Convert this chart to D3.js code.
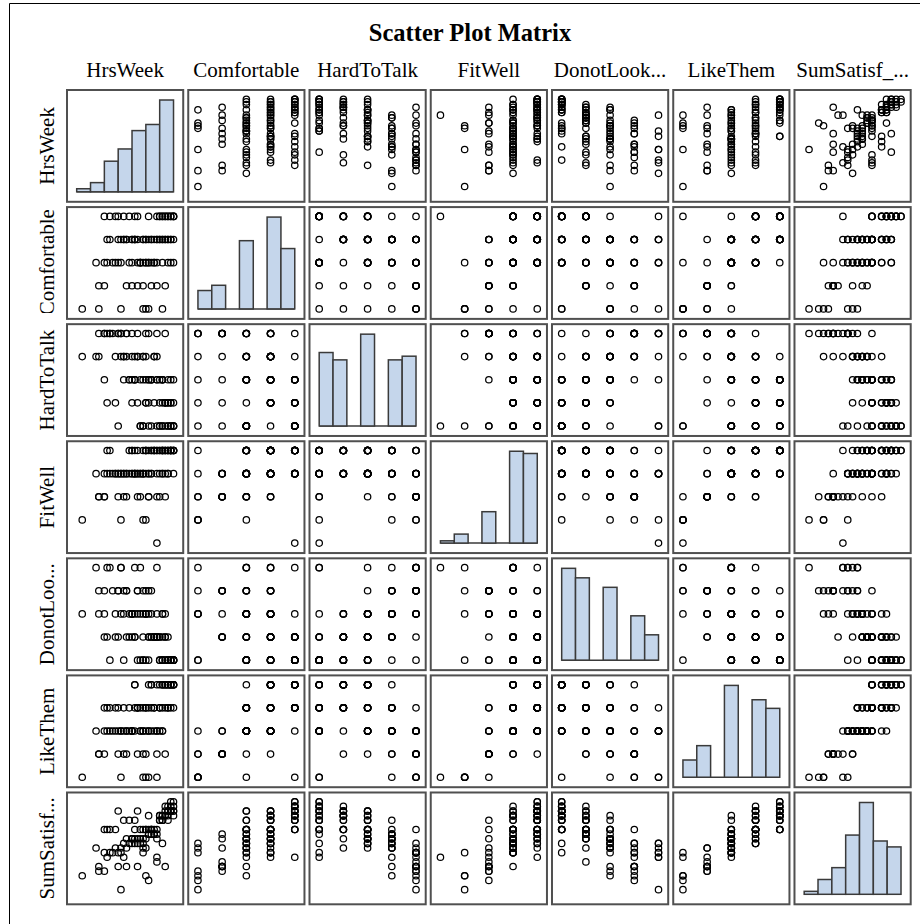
<!DOCTYPE html>
<html><head><meta charset="utf-8">
<script src="https://cdn.jsdelivr.net/npm/d3@7"></script>
<style>body{margin:0;background:#fff}svg{display:block}</style>
</head><body><svg id="c" width="920" height="924"></svg>
<script>
// ---- data ----
const varNames  = ["HrsWeek","Comfortable","HardToTalk","FitWell","DonotLook","LikeThem","SumSatisf"];
const colLabels = ["HrsWeek","Comfortable","HardToTalk","FitWell","DonotLook...","LikeThem","SumSatisf_..."];
const rowLabels = ["HrsWeek","Comfortable","HardToTalk","FitWell","DonotLoo...","LikeThem","SumSatisf..."];
const titleText = "Scatter Plot Matrix";

const HrsWeek = [29,16,24,2,25,26,25,31,8,10, 22,29,18,32,8,24,15,17,27,20,
  35,34,33,35,32,15,31,30,34,33, 22,14,32,26,35,10,19,31,30,17,
  21,12,12,16,11,18,13,15,10,20, 23,21,7,24,22,27,34,23,26,31,
  33,35,24,28,20,25,29,23,27,19, 26,16,28,14,30,34,32,33,31,11,
  35,25,30,32,34,21,29,26,33,27, 31,21,18,24,22,28,17,25,29,20];
const Comfortable = [5,1,1,1,3,1,1,1,1,2, 2,2,2,2,2,2,3,4,2,2,
  5,5,5,5,5,5,5,5,5,5, 5,5,5,5,5,5,5,5,5,5,
  5,5,4,4,3,4,3,4,3,4, 3,4,3,4,3,4,3,3,3,3,
  3,3,3,3,3,3,3,3,3,3, 3,3,3,3,4,4,4,4,4,4,
  4,4,4,4,4,4,4,4,4,4, 4,4,4,4,4,4,4,4,4,4];
const HardToTalk = [1,5,1,4,5,5,2,3,5,5, 5,5,5,5,4,3,5,4,1,2,
  1,1,1,1,1,1,1,1,2,2, 2,2,2,2,3,3,3,3,3,3,
  4,5,5,5,5,5,5,5,5,5, 1,3,4,4,4,3,1,1,1,1,
  1,1,1,2,3,3,3,3,3,3, 3,4,4,4,1,2,2,2,2,2,
  2,2,2,2,3,3,3,3,3,3, 3,3,4,4,4,4,4,4,4,4];
const FitWell = [1,2,2,2,2,3,5,4,3,3, 3,3,4,3,3,4,3,3,4,4,
  5,5,5,4,5,4,5,4,5,5, 4,4,5,4,5,4,5,4,5,4,
  5,5,4,4,5,3,4,4,3,5, 4,4,4,4,5,5,5,4,3,5,
  4,5,4,5,4,5,4,3,5,4, 5,4,5,4,3,5,5,4,5,4,
  5,4,5,4,5,4,5,4,5,4, 5,4,4,5,4,5,4,5,5,5];
const DonotLook = [5,5,1,3,4,4,3,1,3,4, 4,2,4,3,4,2,4,4,2,2,
  1,1,1,1,2,2,3,1,1,2, 1,2,1,2,1,2,2,1,2,1,
  2,1,5,5,5,4,4,4,3,3, 5,5,5,4,4,4,1,1,1,1,
  1,1,1,2,3,3,2,3,2,3, 3,3,2,3,1,1,2,1,3,2,
  1,3,2,1,1,2,3,2,1,3, 2,3,2,3,3,2,3,1,2,3];
const LikeThem = [1,1,1,1,1,1,2,3,2,2, 2,2,2,2,2,2,2,2,3,3,
  5,5,4,5,5,4,4,3,5,5, 4,4,4,5,5,4,4,5,5,4,
  5,4,3,3,3,3,3,3,3,3, 3,4,3,4,4,5,4,3,3,3,
  4,5,3,4,3,3,3,4,4,3, 4,3,4,3,4,5,5,5,5,4,
  4,4,4,5,5,5,5,3,5,5, 5,3,3,3,4,3,3,4,3,3];
const SumSatisf = [13,6,14,9,9,8,15,16,10,10, 11,12,11,11,11,15,11,13,18,17,
  25,25,24,24,24,23,22,22,24,23, 23,19,23,22,23,19,21,22,22,21,
  21,19,14,14,13,15,14,14,14,16, 16,16,15,16,16,19,23,19,19,21,
  21,23,19,19,17,17,17,17,19,16, 18,15,18,15,21,23,22,22,21,19,
  22,19,21,22,23,19,19,18,23,19, 21,17,17,17,17,18,16,19,18,17];

const likertDomain = [1,5];
const hrsDomain = [0,35];
const sumDomain = [5,25];
const nBins = 7;

// ---- build ----
const data = {HrsWeek, Comfortable, HardToTalk, FitWell, DonotLook, LikeThem, SumSatisf};
const domains = {HrsWeek:hrsDomain, Comfortable:likertDomain, HardToTalk:likertDomain,
  FitWell:likertDomain, DonotLook:likertDomain, LikeThem:likertDomain, SumSatisf:sumDomain};

const svg = d3.select("#c");
const font = "'Liberation Serif','Times New Roman',Times,serif";
svg.append("rect").attr("width",920).attr("height",924).attr("fill","#fff");

// outer frame (cropped)
svg.append("path").attr("d","M9.5,924V3.5H920").attr("fill","none").attr("stroke","#000").attr("stroke-width",1);

svg.append("text").attr("x",470).attr("y",41).attr("text-anchor","middle")
  .attr("font-family",font).attr("font-weight","bold").attr("font-size",24.5).attr("fill","#000").text(titleText);

const gx = d3.scaleBand().domain(d3.range(7)).range([66,911.7]).paddingInner(0.025);
const gy = d3.scaleBand().domain(d3.range(7)).range([89,905.3]).paddingInner(0.028);
const bw = gx.bandwidth(), bh = gy.bandwidth();
const padX = 10.7, padT = 10.3, padB = 11;
const xs = (v,i) => d3.scaleLinear().domain(domains[v]).range([gx(i)+padX, gx(i)+bw-padX]);
const ys = (v,j) => d3.scaleLinear().domain(domains[v]).range([gy(j)+bh-padB, gy(j)+padT]);

// column headers
colLabels.forEach((t,i)=>{
  svg.append("text").attr("x",gx(i)+bw/2).attr("y",76.5).attr("text-anchor","middle")
    .attr("font-family",font).attr("font-size",21).attr("fill","#000").text(t);
});
// row labels
const defs = svg.append("defs");
rowLabels.forEach((t,j)=>{
  const id = "rc"+j;
  const cr = defs.append("clipPath").attr("id",id).append("rect")
    .attr("x",14).attr("y",gy(j)).attr("width",50).attr("height",bh);
  const g = svg.append("g").attr("clip-path",`url(#${id})`);
  const tx = g.append("text").attr("transform",`translate(53.5,${gy(j)+bh/2}) rotate(-90)`)
    .attr("text-anchor","middle").attr("font-family",font).attr("font-size",21).attr("fill","#000").text(t);
  const len = tx.node().getComputedTextLength();
  if (len > bh-9) {
    tx.attr("text-anchor","end").attr("transform",`translate(53.5,${gy(j)+3}) rotate(-90)`);
    cr.attr("height",bh-7);
  }
});

// cells
varNames.forEach((vy,j)=>{
  varNames.forEach((vx,i)=>{
    const cell = svg.append("g");
    const x = xs(vx,i);
    if (i===j) {
      const [lo,hi] = domains[vx];
      const th = d3.range(1,nBins).map(k=>lo+k*(hi-lo)/nBins);
      const bins = d3.bin().domain([lo,hi]).thresholds(th)(data[vx]);
      const y = d3.scaleLinear().domain([0,d3.max(bins,b=>b.length)]).range([gy(j)+bh-padB, gy(j)+padT+0.7]);
      cell.append("line").attr("x1",x(lo)).attr("x2",x(hi)).attr("y1",y(0)).attr("y2",y(0))
        .attr("stroke","#3a3a3a").attr("stroke-width",1.5);
      cell.selectAll("rect.bar").data(bins.filter(b=>b.length>0)).join("rect").attr("class","bar")
        .attr("x",b=>x(b.x0)).attr("width",b=>x(b.x1)-x(b.x0))
        .attr("y",b=>y(b.length)).attr("height",b=>y(0)-y(b.length))
        .attr("fill","#C5D6EB").attr("stroke","#3a3a3a").attr("stroke-width",1.5);
    } else {
      const y = ys(vy,j);
      const pts = d3.range(data[vx].length);
      cell.selectAll("circle").data(pts).join("circle")
        .attr("cx",k=>x(data[vx][k])).attr("cy",k=>y(data[vy][k])).attr("r",3.2)
        .attr("fill","none").attr("stroke","#000").attr("stroke-width",1.25);
    }
    svg.append("rect").attr("x",gx(i)+1).attr("y",gy(j)+1).attr("width",bw-2).attr("height",bh-2)
      .attr("fill","none").attr("stroke","#505050").attr("stroke-width",2);
  });
});
</script></body></html>
